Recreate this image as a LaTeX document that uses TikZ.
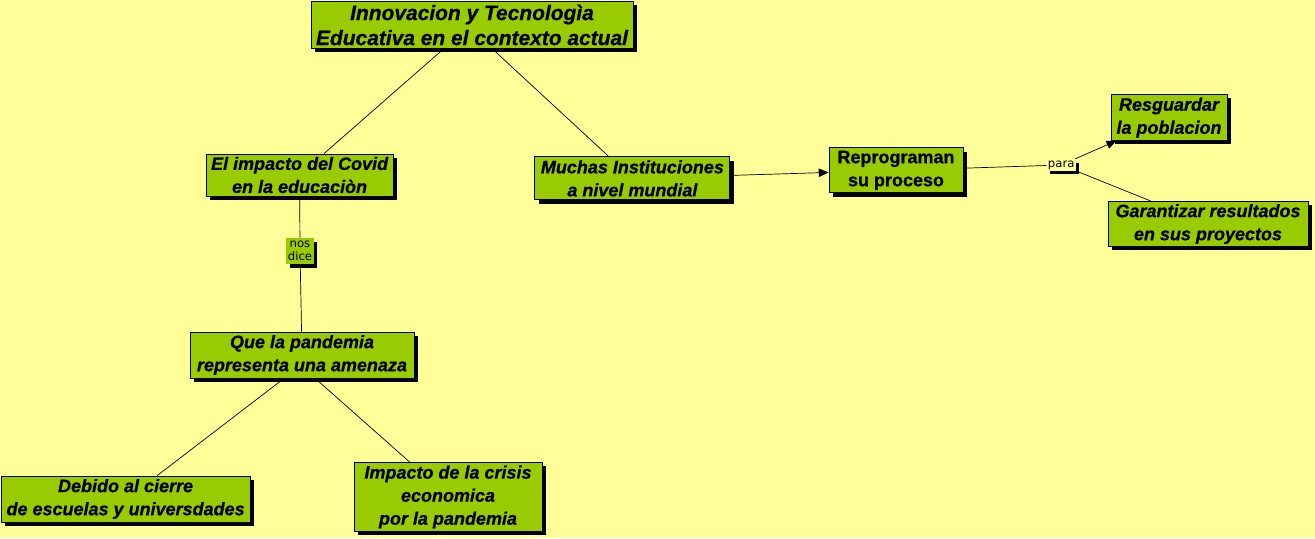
\documentclass[tikz,border=0pt]{standalone}
\usepackage{fontspec}
\setmainfont{Liberation Sans}[BoldFeatures={FakeBold=0.8},
                              BoldItalicFeatures={FakeBold=0.8}]
\newfontfamily\etiqfont{DejaVu Sans}
\usetikzlibrary{arrows.meta, shadows}
\definecolor{fondo}{RGB}{255,255,153}
\definecolor{verde}{RGB}{153,204,0}

\begin{document}
\begin{tikzpicture}[
  sombra/.style={drop shadow={shadow xshift=0.09cm, shadow yshift=-0.09cm,
                 fill=black, opacity=1}},
  concepto/.style={draw=black, fill=verde, line width=0.6pt, align=center,
                   inner sep=2pt, sombra,
                   font=\fontsize{12.8}{16.4}\selectfont\bfseries\itshape},
  etiqueta/.style={inner sep=1pt, align=center, sombra,
                   font=\etiqfont\fontsize{8.3}{9.6}\selectfont},
  enlace/.style={draw=black, line width=0.5pt},
  flecha/.style={enlace, -{Triangle[length=7pt,width=6pt]}}
]

%--------------------------------------------------------------
% Fondo y marco
%--------------------------------------------------------------
\fill[fondo] (0,0) rectangle (32.875,-13.45);
\useasboundingbox (0,0) rectangle (32.875,-13.45);

%--------------------------------------------------------------
% Concepto principal
%--------------------------------------------------------------
\node[concepto, minimum width=8.05cm, minimum height=1.15cm,
      font=\fontsize{14.9}{17.8}\selectfont\bfseries\itshape]
  (titulo) at (11.8,-0.625) {Innovacion y Tecnologìa\\ Educativa en el contexto actual};

%--------------------------------------------------------------
% Rama izquierda
%--------------------------------------------------------------
\node[concepto, minimum width=4.675cm, minimum height=1.05cm]
  (covid) at (7.49,-4.375) {El impacto del Covid\\ en la educaciòn};
\node[etiqueta, fill=verde, minimum width=0.65cm, minimum height=0.65cm]
  (nosdice) at (7.5,-6.275) {nos\\ dice};
\node[concepto, minimum width=5.6cm, minimum height=1.15cm]
  (amenaza) at (7.55,-8.875) {Que la pandemia\\ representa una amenaza};
\node[concepto, minimum width=6.225cm, minimum height=1.15cm]
  (cierre) at (3.14,-12.475) {Debido al cierre\\ de escuelas y universdades};
\node[concepto, minimum width=4.7cm, minimum height=1.65cm]
  (crisis) at (11.2,-12.425) {Impacto de la crisis\\ economica\\ por la pandemia};

%--------------------------------------------------------------
% Rama derecha
%--------------------------------------------------------------
\node[concepto, minimum width=4.875cm, minimum height=1.075cm]
  (muchas) at (15.81,-4.46) {Muchas Instituciones\\ a nivel mundial};
\node[concepto, minimum width=3.35cm, minimum height=1.125cm,
      font=\fontsize{12.8}{16.4}\selectfont\bfseries]
  (reprograman) at (22.4,-4.26) {Reprograman\\ su proceso};
\node[etiqueta, fill=fondo] (para) at (26.53,-4.125) {para};
\node[concepto, minimum width=2.9cm, minimum height=1.125cm]
  (resguardar) at (29.225,-2.94) {Resguardar\\ la poblacion};
\node[concepto, minimum width=5.0cm, minimum height=1.05cm]
  (garantizar) at (30.2,-5.6) {Garantizar resultados\\ en sus proyectos};

%--------------------------------------------------------------
% Enlaces
%--------------------------------------------------------------
\draw[enlace] ([xshift=-0.7cm]titulo.south) -- (covid);
\draw[enlace] ([xshift=0.5cm]titulo.south) -- (muchas);
\draw[enlace] (covid) -- (nosdice);
\draw[enlace] (nosdice) -- (amenaza);
\draw[enlace] ([xshift=-0.45cm]amenaza.south) -- ([xshift=0.79cm]cierre.north);
\draw[enlace] ([xshift=0.33cm]amenaza.south) -- ([xshift=-0.95cm]crisis.north);

\draw[flecha] (muchas) -- (reprograman);
\draw[enlace] (reprograman) -- (para);
\draw[flecha] (para) -- (resguardar);
\draw[enlace] (para) -- (garantizar);

\end{tikzpicture}
\end{document}
